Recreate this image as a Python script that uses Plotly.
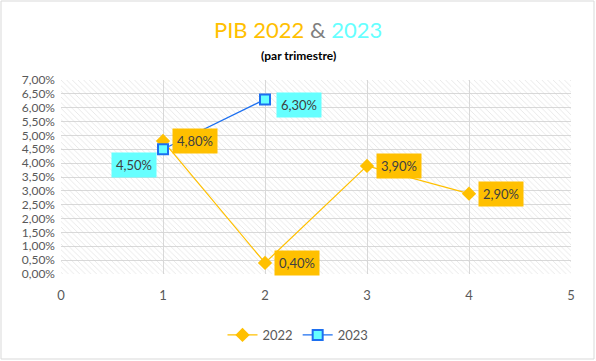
import plotly.graph_objects as go

# ---- data ----
quarters_2022 = [1, 2, 3, 4]
pib_2022 = [0.048, 0.004, 0.039, 0.029]
quarters_2023 = [1, 2]
pib_2023 = [0.045, 0.063]
labels_2022 = ["4,80%", "0,40%", "3,90%", "2,90%"]
labels_2023 = ["4,50%", "6,30%"]

X_RANGE = [0, 5]
Y_RANGE = [0, 0.07]

W, H = 596, 361
ML, MR, MT, MB = 61, 25, 80, 87
PW, PH = W - ML - MR, H - MT - MB

GOLD = "#FFC000"
CYAN = "#66FFFF"
BLUE = "#1C6FF0"
TXT = "#595959"
FONT = "Lato, Open Sans, sans-serif"

fig = go.Figure()

# hatched plot-area background
fig.add_trace(go.Bar(
    x=[(X_RANGE[0] + X_RANGE[1]) / 2], y=[Y_RANGE[1] - Y_RANGE[0]], base=[Y_RANGE[0]],
    width=[X_RANGE[1] - X_RANGE[0]],
    marker=dict(color="rgba(0,0,0,0)", line=dict(width=0),
                pattern=dict(shape="\\", fgcolor="#cfcfcf", size=4, solidity=0.22)),
    showlegend=False, hoverinfo="skip"))

fig.add_trace(go.Scatter(
    x=quarters_2022, y=pib_2022, name="2022", mode="lines+markers",
    line=dict(color=GOLD, width=1.25),
    marker=dict(symbol="diamond", size=11, color=GOLD, line=dict(width=0))))

fig.add_trace(go.Scatter(
    x=quarters_2023, y=pib_2023, name="2023", mode="lines+markers",
    line=dict(color=BLUE, width=1.25),
    marker=dict(symbol="square", size=10, color=CYAN, line=dict(color=BLUE, width=2))))

ann = []
for x, y, t in zip(quarters_2022, pib_2022, labels_2022):
    ann.append(dict(x=x, y=y, text=t, showarrow=False, xanchor="left", yanchor="middle",
                    xshift=9, bgcolor=GOLD, borderpad=4,
                    font=dict(family=FONT, size=13, color="#404040")))
# 2023 labels: first left-below, second right-below
shifts_2023 = [(-6, -16, "right"), (11, -6, "left")]
for (x, y, t), (xs, ys, xa) in zip(zip(quarters_2023, pib_2023, labels_2023), shifts_2023):
    ann.append(dict(x=x, y=y, text=t, showarrow=False, xanchor=xa, yanchor="middle",
                    xshift=xs, yshift=ys, bgcolor=CYAN, borderpad=4,
                    font=dict(family=FONT, size=13, color="#404040")))

# title
ann.append(dict(xref="paper", yref="paper", x=(W / 2 - ML) / PW,
                y=1 + (MT - 29) / PH, yanchor="middle", xanchor="center", showarrow=False,
                text=f"<span style='color:{GOLD}'>PIB 2022</span> "
                     f"<span style='color:#7F7F7F'>&</span> "
                     f"<span style='color:{CYAN}'>2023</span>",
                font=dict(family=FONT, size=22)))
ann.append(dict(xref="paper", yref="paper", x=(W / 2 - ML) / PW,
                y=1 + (MT - 55) / PH, yanchor="middle", xanchor="center", showarrow=False,
                text="<b>(par trimestre)</b>",
                font=dict(family=FONT, size=12, color="#000000")))

fig.update_layout(
    width=W, height=H,
    margin=dict(l=ML, r=MR, t=MT, b=MB, autoexpand=False),
    paper_bgcolor="white", plot_bgcolor="white",
    separators=", ",
    annotations=ann,
    showlegend=True,
    legend=dict(orientation="h", x=(W / 2 - ML) / PW, xanchor="center",
                y=-(335 - (MT + PH)) / PH, yanchor="middle",
                font=dict(family=FONT, size=13, color=TXT)),
    xaxis=dict(range=X_RANGE, dtick=1, tick0=0, showgrid=True, gridcolor="#d9d9d9",
               gridwidth=1, zeroline=False, showline=False, ticks="", automargin=False,
               tickfont=dict(family=FONT, size=13, color=TXT), ticklabelstandoff=12),
    yaxis=dict(range=Y_RANGE, dtick=0.005, tick0=0, tickformat=".2%", showgrid=True,
               gridcolor="#d9d9d9", gridwidth=1, zeroline=False, showline=False, ticks="",
               automargin=False, ticklabelstandoff=5,
               tickfont=dict(family=FONT, size=12, color=TXT)),
    shapes=[dict(type="rect", xref="paper", yref="paper",
                 x0=(-ML + 1) / PW, x1=1 + (MR - 2) / PW,
                 y0=-(MB - 2) / PH, y1=1 + (MT - 1) / PH,
                 line=dict(color="#d9d9d9", width=1), layer="above")],
)

fig.write_html("out.html", config={"displayModeBar": False},
               post_script="document.body.style.margin='0';document.body.style.padding='0';")
